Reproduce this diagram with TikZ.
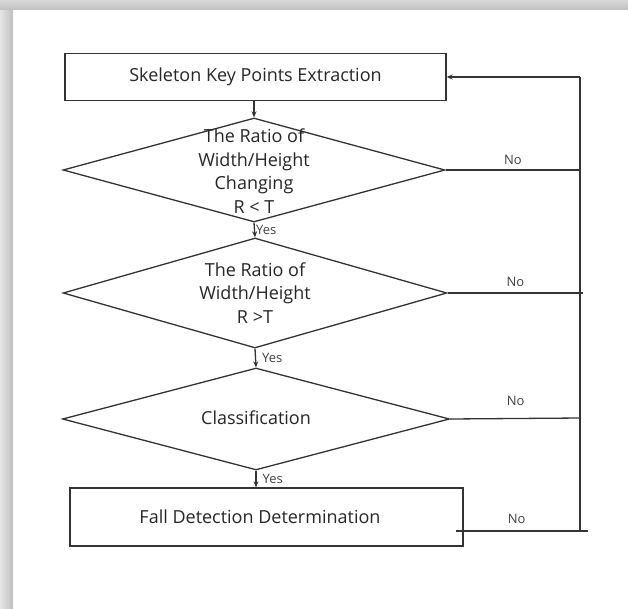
\documentclass[tikz,border=0pt]{standalone}
\usepackage{fontspec}
\setmainfont{Open Sans}
\usetikzlibrary{shapes.geometric,arrows.meta}
\begin{document}
\begin{tikzpicture}[x=1pt,y=-1pt,
  conn/.style={draw=black!80, line width=1.3pt},
  arr/.style={conn, -{Stealth[length=6pt,width=5pt]}},
  procbox/.style={draw=black!80, line width=1.3pt, rectangle, inner sep=0pt},
  decision/.style={draw=black!80, line width=1.3pt, diamond, inner sep=0pt},
  txt/.style={font=\fontsize{18}{23.7}\selectfont, text=black!85, align=center},
  small/.style={font=\fontsize{13}{15}\selectfont, text=black!75, inner sep=1pt}]
\useasboundingbox (0,0) rectangle (628,609);
\fill[white] (0,0) rectangle (628,609);
\shade[left color=gray!20, right color=gray!50] (0,0) rectangle (13,609);
\shade[top color=gray!30, bottom color=gray!50] (0,0) rectangle (628,10);

\node[procbox, txt, minimum width=381pt, minimum height=47pt] (b1) at (255.5,77) {Skeleton Key Points Extraction};

\node[decision, minimum width=382pt, minimum height=104pt] (d1) at (254,170) {};
\node[txt] (t1) at (254,171) {The Ratio of\\Width/Height\\Changing\\R < T};

\node[decision, minimum width=384pt, minimum height=110pt] (d2) at (255,293) {};
\node[txt] (t2) at (255,293) {The Ratio of\\Width/Height\\R >T};

\node[decision, minimum width=387pt, minimum height=102pt] (d3) at (256,419) {};
\node[txt] (t3) at (256,418) {Classification};

\node[procbox, minimum width=393pt, minimum height=58pt] (b2) at (266.5,517) {};
\node[txt] (t4) at (260,517) {Fall Detection Determination};

\draw[arr] (b1.south -| d1.north) -- (d1.north);
\draw[arr] (d1.south) -- (d2.north) node[small, midway, right] (y1) {Yes};
\draw[arr] (d2.south) -- (d3.north) node[small, midway, right, xshift=5pt] (y2) {Yes};
\draw[arr] (d3.south) -- (d3.south |- b2.north) node[small, midway, right, xshift=5pt] (y3) {Yes};

\coordinate (c0) at (580,77);
\coordinate (c1) at (580,170);
\coordinate (c2) at (583,293);
\coordinate (c3) at (581,418);
\coordinate (c4a) at (456,531);
\coordinate (c4b) at (588,531);
\coordinate (c4) at (580,531);

\draw[conn] (d1.east) -- (c1) node[small, midway, above=4pt] (n1) {No};
\draw[conn] (d2.east) -- (c2) node[small, midway, above=5pt] (n2) {No};
\draw[conn] (d3.east) -- (c3) node[small, midway, above=11pt] (n3) {No};
\draw[conn] (c4a) -- (c4b) node[small, pos=0.46, above=6pt] (n4) {No};
\draw[conn] (c4) -- (c0);
\draw[arr] (c0) -- (b1.east);
\end{tikzpicture}
\end{document}
